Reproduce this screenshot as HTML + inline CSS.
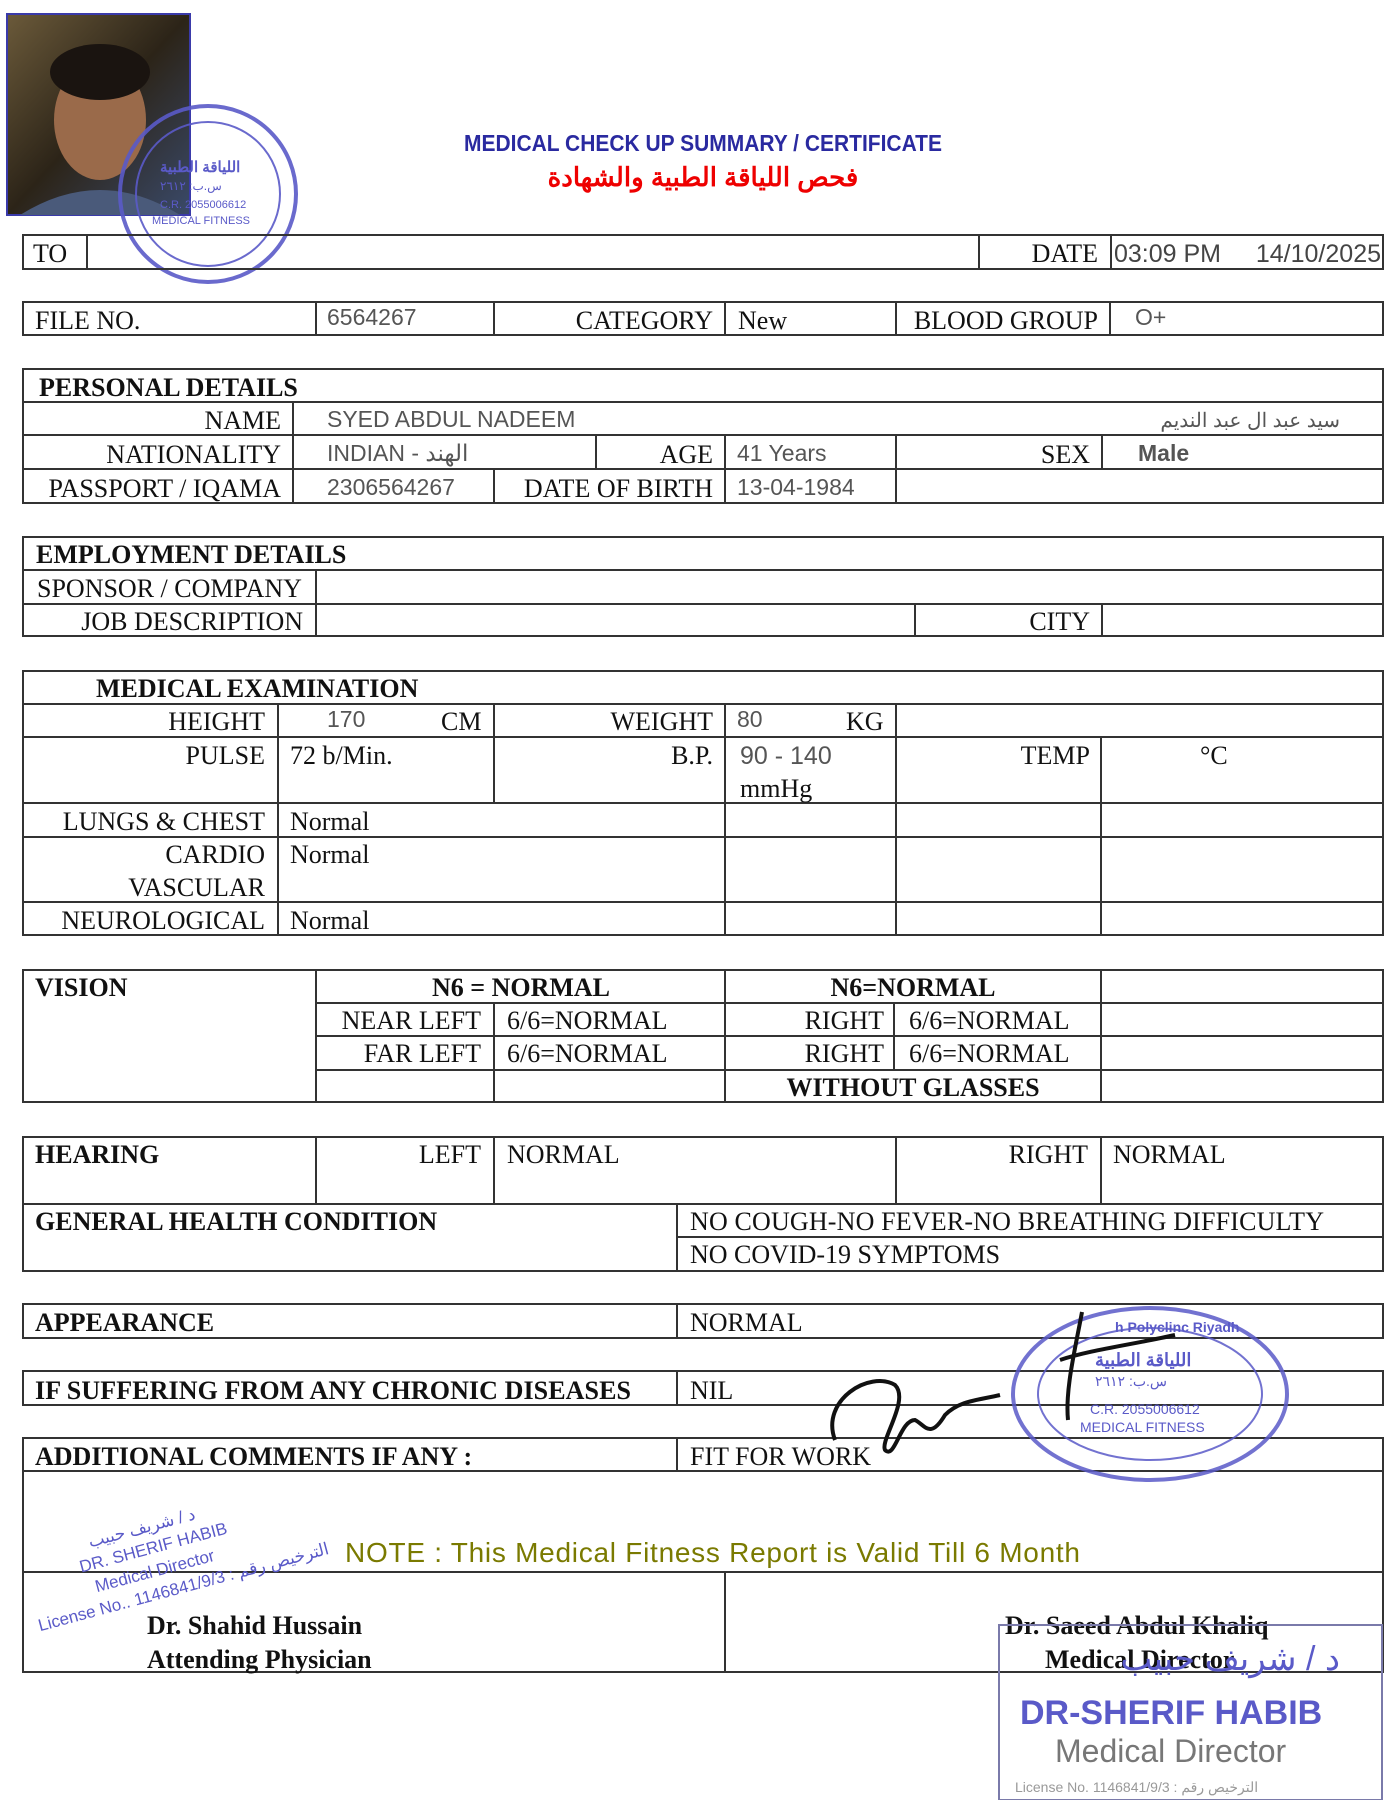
<!DOCTYPE html>
<html><head><meta charset="utf-8"><style>
html,body{margin:0;padding:0;background:#fff}
svg{display:block}
.s{font-family:"Liberation Serif",serif;font-size:26px;fill:#111}
.b{font-weight:bold}
.v{font-family:"Liberation Sans","Noto Sans CJK SC",sans-serif;font-size:23px;fill:#555}
.st{font-family:"Liberation Sans",sans-serif;fill:#5a5ac8}
</style></head><body>
<svg width="1400" height="1800" viewBox="0 0 1400 1800" xmlns="http://www.w3.org/2000/svg">
<defs><linearGradient id="pg" x1="0" y1="0" x2="1" y2="1"><stop offset="0" stop-color="#6b5a3a"/><stop offset="0.5" stop-color="#2c2418"/><stop offset="1" stop-color="#3a4a6a"/></linearGradient></defs>
<rect x="7" y="14" width="183" height="201" fill="url(#pg)" stroke="#3a3aaa" stroke-width="2"/>
<ellipse cx="100" cy="120" rx="46" ry="60" fill="#9a6a4a"/>
<ellipse cx="100" cy="72" rx="50" ry="28" fill="#1a1410"/>
<path d="M20 215 Q100 165 180 215 Z" fill="#4a5a7a"/>
<g fill="none" stroke="#5a5ac8" stroke-width="4" opacity="0.9"><circle cx="208" cy="194" r="88"/><circle cx="208" cy="194" r="72" stroke-width="2"/></g>
<text x="160" y="172" class="st" font-size="15" font-weight="bold">اللياقة الطبية</text>
<text x="160" y="190" class="st" font-size="12">س.ب: ٢٦١٢</text>
<text x="160" y="208" class="st" font-size="11">C.R. 2055006612</text>
<text x="152" y="224" class="st" font-size="11">MEDICAL FITNESS</text>
<text x="703" y="151" text-anchor="middle" font-family="Liberation Sans,sans-serif" font-size="23" fill="#2a2aa0" font-weight="bold" textLength="478" lengthAdjust="spacingAndGlyphs">MEDICAL CHECK UP SUMMARY / CERTIFICATE</text>
<text x="703" y="186" text-anchor="middle" font-family="Liberation Sans,'Noto Sans CJK SC',sans-serif" font-size="26" fill="#e00" font-weight="bold">فحص اللياقة الطبية والشهادة</text>

<g stroke="#333" stroke-width="2" fill="none">
<rect x="23" y="235" width="1360" height="34"/>
<line x1="87" y1="235" x2="87" y2="269"/><line x1="979" y1="235" x2="979" y2="269"/><line x1="1111" y1="235" x2="1111" y2="269"/>
<rect x="23" y="302" width="1360" height="33"/>
<line x1="316" y1="302" x2="316" y2="335"/><line x1="494" y1="302" x2="494" y2="335"/><line x1="725" y1="302" x2="725" y2="335"/><line x1="896" y1="302" x2="896" y2="335"/><line x1="1110" y1="302" x2="1110" y2="335"/>
<rect x="23" y="369" width="1360" height="134"/>
<line x1="23" y1="402" x2="1383" y2="402"/><line x1="23" y1="435" x2="1383" y2="435"/><line x1="23" y1="469" x2="1383" y2="469"/>
<line x1="293" y1="402" x2="293" y2="503"/>
<line x1="596" y1="435" x2="596" y2="469"/><line x1="725" y1="435" x2="725" y2="503"/><line x1="896" y1="435" x2="896" y2="503"/><line x1="1102" y1="435" x2="1102" y2="469"/>
<line x1="494" y1="469" x2="494" y2="503"/>
<rect x="23" y="537" width="1360" height="99"/>
<line x1="23" y1="570" x2="1383" y2="570"/><line x1="23" y1="604" x2="1383" y2="604"/>
<line x1="316" y1="570" x2="316" y2="636"/><line x1="915" y1="604" x2="915" y2="636"/><line x1="1102" y1="604" x2="1102" y2="636"/>
<rect x="23" y="671" width="1360" height="264"/>
<line x1="23" y1="704" x2="1383" y2="704"/><line x1="23" y1="737" x2="1383" y2="737"/><line x1="23" y1="803" x2="1383" y2="803"/><line x1="23" y1="837" x2="1383" y2="837"/><line x1="23" y1="902" x2="1383" y2="902"/>
<line x1="278" y1="704" x2="278" y2="935"/><line x1="494" y1="704" x2="494" y2="803"/><line x1="725" y1="704" x2="725" y2="935"/><line x1="896" y1="704" x2="896" y2="935"/><line x1="1101" y1="737" x2="1101" y2="935"/>
<rect x="23" y="970" width="1360" height="132"/>
<line x1="316" y1="1003" x2="1383" y2="1003"/><line x1="316" y1="1036" x2="1383" y2="1036"/><line x1="316" y1="1070" x2="1383" y2="1070"/>
<line x1="316" y1="970" x2="316" y2="1102"/><line x1="494" y1="1003" x2="494" y2="1102"/><line x1="725" y1="970" x2="725" y2="1102"/><line x1="894" y1="1003" x2="894" y2="1070"/><line x1="1101" y1="970" x2="1101" y2="1102"/>
<rect x="23" y="1137" width="1360" height="134"/>
<line x1="23" y1="1204" x2="1383" y2="1204"/><line x1="677" y1="1237" x2="1383" y2="1237"/>
<line x1="316" y1="1137" x2="316" y2="1204"/><line x1="494" y1="1137" x2="494" y2="1204"/><line x1="896" y1="1137" x2="896" y2="1204"/><line x1="1101" y1="1137" x2="1101" y2="1204"/>
<line x1="677" y1="1204" x2="677" y2="1271"/>
<rect x="23" y="1304" width="1360" height="34"/><line x1="677" y1="1304" x2="677" y2="1338"/>
<rect x="23" y="1371" width="1360" height="34"/><line x1="677" y1="1371" x2="677" y2="1405"/>
<rect x="23" y="1438" width="1360" height="234"/><line x1="23" y1="1471" x2="1383" y2="1471"/><line x1="677" y1="1438" x2="677" y2="1471"/>
<line x1="23" y1="1572" x2="1383" y2="1572"/><line x1="725" y1="1572" x2="725" y2="1672"/>
</g>

<g class="s">
<text x="33" y="262">TO</text>
<text x="1098" y="262" text-anchor="end">DATE</text>
<text x="35" y="329">FILE NO.</text>
<text x="713" y="329" text-anchor="end">CATEGORY</text>
<text x="738" y="329">New</text>
<text x="1098" y="329" text-anchor="end">BLOOD GROUP</text>
<text x="39" y="396" class="b">PERSONAL DETAILS</text>
<text x="281" y="429" text-anchor="end">NAME</text>
<text x="281" y="463" text-anchor="end">NATIONALITY</text>
<text x="713" y="463" text-anchor="end">AGE</text>
<text x="1090" y="463" text-anchor="end">SEX</text>
<text x="281" y="497" text-anchor="end">PASSPORT / IQAMA</text>
<text x="713" y="497" text-anchor="end">DATE OF BIRTH</text>
<text x="36" y="563" class="b">EMPLOYMENT DETAILS</text>
<text x="37" y="597">SPONSOR / COMPANY</text>
<text x="303" y="630" text-anchor="end">JOB DESCRIPTION</text>
<text x="1090" y="630" text-anchor="end">CITY</text>
<text x="96" y="697" class="b">MEDICAL EXAMINATION</text>
<text x="265" y="730" text-anchor="end">HEIGHT</text>
<text x="441" y="730">CM</text>
<text x="713" y="730" text-anchor="end">WEIGHT</text>
<text x="846" y="730">KG</text>
<text x="265" y="764" text-anchor="end">PULSE</text>
<text x="290" y="764">72 b/Min.</text>
<text x="713" y="764" text-anchor="end">B.P.</text>
<text x="740" y="797">mmHg</text>
<text x="1090" y="764" text-anchor="end">TEMP</text>
<text x="1200" y="764">°C</text>
<text x="265" y="830" text-anchor="end">LUNGS &amp; CHEST</text><text x="290" y="830">Normal</text>
<text x="265" y="863" text-anchor="end">CARDIO</text><text x="290" y="863">Normal</text>
<text x="265" y="896" text-anchor="end">VASCULAR</text>
<text x="265" y="929" text-anchor="end">NEUROLOGICAL</text><text x="290" y="929">Normal</text>
<text x="35" y="996" class="b">VISION</text>
<text x="521" y="996" class="b" text-anchor="middle">N6 = NORMAL</text>
<text x="913" y="996" class="b" text-anchor="middle">N6=NORMAL</text>
<text x="481" y="1029" text-anchor="end">NEAR LEFT</text><text x="507" y="1029">6/6=NORMAL</text>
<text x="884" y="1029" text-anchor="end">RIGHT</text><text x="909" y="1029">6/6=NORMAL</text>
<text x="481" y="1062" text-anchor="end">FAR LEFT</text><text x="507" y="1062">6/6=NORMAL</text>
<text x="884" y="1062" text-anchor="end">RIGHT</text><text x="909" y="1062">6/6=NORMAL</text>
<text x="913" y="1096" class="b" text-anchor="middle">WITHOUT GLASSES</text>
<text x="35" y="1163" class="b">HEARING</text>
<text x="481" y="1163" text-anchor="end">LEFT</text><text x="507" y="1163">NORMAL</text>
<text x="1088" y="1163" text-anchor="end">RIGHT</text><text x="1113" y="1163">NORMAL</text>
<text x="35" y="1230" class="b">GENERAL HEALTH CONDITION</text>
<text x="690" y="1230" textLength="634">NO COUGH-NO FEVER-NO BREATHING DIFFICULTY</text>
<text x="690" y="1263">NO COVID-19 SYMPTOMS</text>
<text x="35" y="1331" class="b">APPEARANCE</text><text x="690" y="1331">NORMAL</text>
<text x="35" y="1399" class="b" textLength="596">IF SUFFERING FROM ANY CHRONIC DISEASES</text><text x="690" y="1399">NIL</text>
<text x="35" y="1465" class="b">ADDITIONAL COMMENTS IF ANY :</text><text x="690" y="1465">FIT FOR WORK</text>
<text x="147" y="1634" class="b">Dr. Shahid Hussain</text>
<text x="147" y="1668" class="b">Attending Physician</text>
<text x="1005" y="1634" class="b">Dr. Saeed Abdul Khaliq</text>
<text x="1045" y="1668" class="b">Medical Director</text>
</g>
<g class="v">
<text x="1114" y="262" font-size="25" fill="#444">03:09 PM</text>
<text x="1381" y="262" text-anchor="end" font-size="25" fill="#444">14/10/2025</text>
<text x="327" y="325">6564267</text>
<text x="1135" y="325">O+</text>
<text x="327" y="427">SYED ABDUL NADEEM</text>
<text x="1340" y="427" text-anchor="end" font-size="20">سيد عبد ال عبد النديم</text>
<text x="327" y="461">INDIAN - الهند</text>
<text x="737" y="461">41 Years</text>
<text x="1138" y="461" font-weight="bold">Male</text>
<text x="327" y="495">2306564267</text>
<text x="737" y="495">13-04-1984</text>
<text x="327" y="727">170</text>
<text x="737" y="727">80</text>
<text x="740" y="764" font-size="25">90 - 140</text>
</g>
<text x="345" y="1562" font-family="Liberation Sans,sans-serif" font-size="28" fill="#7a7a00" textLength="735">NOTE : This Medical Fitness Report is Valid Till 6 Month</text>

<g fill="none" stroke="#5a5ac8" opacity="0.85"><ellipse cx="1150" cy="1394" rx="137" ry="86" stroke-width="4"/><ellipse cx="1150" cy="1394" rx="112" ry="66" stroke-width="2"/></g>
<text x="1115" y="1332" class="st" font-size="14" font-weight="bold">h Polyclinc Riyadh</text>
<text x="1095" y="1366" class="st" font-size="18" font-weight="bold">اللياقة الطبية</text>
<text x="1095" y="1386" class="st" font-size="14">س.ب: ٢٦١٢</text>
<text x="1090" y="1414" class="st" font-size="14">C.R. 2055006612</text>
<text x="1080" y="1432" class="st" font-size="14">MEDICAL FITNESS</text>
<path d="M835 1440 C820 1400 870 1370 895 1385 C910 1400 880 1440 885 1450 C895 1460 900 1420 915 1420 C925 1425 930 1440 945 1415 C960 1400 980 1400 1000 1395 M1082 1312 C1075 1350 1065 1390 1068 1420 M1060 1360 C1090 1350 1130 1345 1175 1335" stroke="#111" stroke-width="4" fill="none"/>
<g transform="rotate(-15 140 1560)" class="st" font-size="17">
<text x="95" y="1535">د / شريف حبيب</text>
<text x="80" y="1557">DR. SHERIF HABIB</text>
<text x="90" y="1580">Medical Director</text>
<text x="25" y="1603">License No.. 1146841/9/3 : الترخيص رقم</text>
</g>
<rect x="999" y="1625" width="383" height="175" fill="none" stroke="#7a7aaa" stroke-width="2"/>
<text x="1340" y="1670" text-anchor="end" class="st" font-size="34">د / شريف حبيب</text>
<text x="1020" y="1724" class="st" font-size="34" font-weight="bold">DR-SHERIF HABIB</text>
<text x="1055" y="1762" class="st" font-size="32" style="fill:#777">Medical Director</text>
<text x="1015" y="1792" class="st" font-size="14" style="fill:#999">License No. 1146841/9/3 : الترخيص رقم</text>
</svg>
</body></html>
